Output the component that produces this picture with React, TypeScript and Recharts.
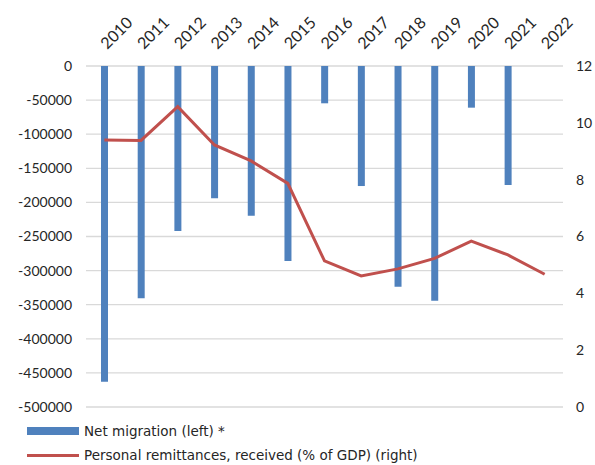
import React from 'react';
import { ComposedChart, Bar, Line, XAxis, YAxis, CartesianGrid, Legend } from 'recharts';

const years = ['2010','2011','2012','2013','2014','2015','2016','2017','2018','2019','2020','2021','2022'];
const netMigration: (number | null)[] = [-463000, -340600, -241900, -194000, -219500, -285900, -54700, -176000, -323600, -344100, -61100, -174500, null];
const remittances = [9.40, 9.38, 10.57, 9.22, 8.66, 7.87, 5.14, 4.61, 4.86, 5.23, 5.84, 5.35, 4.67];
const leftTicks = [0, -50000, -100000, -150000, -200000, -250000, -300000, -350000, -400000, -450000, -500000];
const rightTicks = [0, 2, 4, 6, 8, 10, 12];

const data = years.map((y, i) => ({ year: y, migration: netMigration[i], remit: remittances[i] }));

const FONT = 'Lato, "DejaVu Sans", sans-serif';
const LEGEND_FONT = '"DejaVu Sans", sans-serif';
const TEXT = '#262626';

const TopTick = (props: any) => {
  const { x, y, payload } = props;
  const tx = x + 3;
  const ty = y - 8;
  return (
    <text x={tx} y={ty} transform={`rotate(-45, ${tx}, ${ty})`} textAnchor="start" fill={TEXT} fontSize={16} fontFamily={FONT}>
      {payload.value}
    </text>
  );
};

const LegendContent = () => (
  <div style={{ fontFamily: LEGEND_FONT, fontSize: 13.5, color: TEXT }}>
    <div style={{ position: 'absolute', left: 27, top: 0, height: 20, display: 'flex', alignItems: 'center', whiteSpace: 'nowrap' }}>
      <span style={{ display: 'inline-block', width: 52, height: 8, background: '#4F81BD', marginRight: 5 }} />
      <span>Net migration (left) *</span>
    </div>
    <div style={{ position: 'absolute', left: 27, top: 24, height: 20, display: 'flex', alignItems: 'center', whiteSpace: 'nowrap' }}>
      <span style={{ display: 'inline-block', width: 52, height: 3, background: '#C0504D', marginRight: 5 }} />
      <span>Personal remittances, received (% of GDP) (right)</span>
    </div>
  </div>
);

export default function App() {
  return (
    <div style={{ position: 'absolute', left: 0, top: 0, width: 595, height: 465, background: '#fff' }}>
      <ComposedChart width={595} height={465} data={data} margin={{ top: 0, right: 0, bottom: 58, left: 0 }}>
        <CartesianGrid yAxisId="left" vertical={false} stroke="#D9D9D9" strokeWidth={1.3} />
        <XAxis dataKey="year" orientation="top" height={66} axisLine={false} tickLine={false} interval={0} tick={<TopTick />} />
        <YAxis yAxisId="left" orientation="left" width={86} domain={[-500000, 0]} ticks={leftTicks} axisLine={false} tickLine={false} tickMargin={8} tick={{ fill: TEXT, fontSize: 14, fontFamily: FONT }} />
        <YAxis yAxisId="right" orientation="right" width={32} domain={[0, 12]} ticks={rightTicks} axisLine={false} tickLine={false} tickMargin={7} tick={{ fill: TEXT, fontSize: 14, fontFamily: FONT, textAnchor: 'start' }} />
        <Bar yAxisId="left" dataKey="migration" name="Net migration (left) *" fill="#4F81BD" barSize={7} isAnimationActive={false} />
        <Line yAxisId="right" dataKey="remit" name="Personal remittances, received (% of GDP) (right)" stroke="#C0504D" strokeWidth={3} dot={false} activeDot={false} isAnimationActive={false} />
        <Legend verticalAlign="middle" align="center" layout="horizontal" content={<LegendContent />} wrapperStyle={{ top: 421, left: 0, width: 595, height: 44 }} />
      </ComposedChart>
    </div>
  );
}
